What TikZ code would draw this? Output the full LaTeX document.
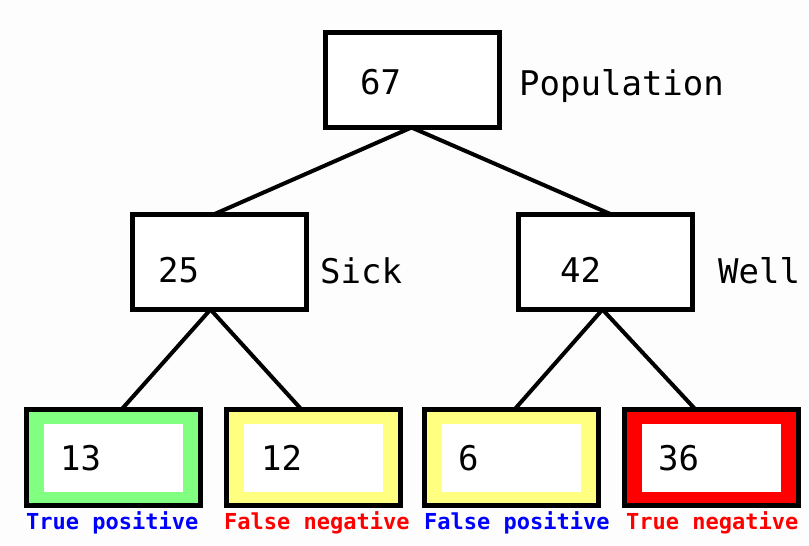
\documentclass[tikz,border=0pt]{standalone}
\usepackage{fontspec}
\setmonofont{DejaVu Sans Mono}
\definecolor{bg}{HTML}{FCFDFC}
\definecolor{tpgreen}{HTML}{80FF80}
\definecolor{fyellow}{HTML}{FFFF80}
\definecolor{tnred}{HTML}{FF0000}
\definecolor{lblue}{HTML}{0000FF}
\begin{document}
\begin{tikzpicture}[x=1pt,y=-1pt,
  box/.style={draw=black,line width=5pt,fill=white,minimum width=174pt,minimum height=95pt,inner sep=0pt,outer sep=0pt},
  leaf/.style={draw=black,line width=5pt,fill=#1,minimum width=174pt,minimum height=96pt,inner sep=0pt,outer sep=0pt},
  hole/.style={fill=white,minimum width=139pt,minimum height=68pt,inner sep=0pt,outer sep=0pt},
  num/.style={anchor=west,inner sep=0pt,font=\ttfamily\fontsize{34}{34}\selectfont},
  word/.style={anchor=base west,inner sep=0pt,font=\ttfamily\fontsize{34}{34}\selectfont},
  cap/.style={anchor=base west,inner sep=0pt,text=#1,font=\ttfamily\bfseries\fontsize{22}{22}\selectfont},
  link/.style={line width=4pt,line cap=round}]
\fill[bg] (0,0) rectangle (809,546);
\useasboundingbox (0,0) rectangle (809,546);
% upper boxes
\node[box] (top) at (412.5,80) {};
\node[box] (sick) at (219.5,262) {};
\node[box] (well) at (605.5,262) {};
% leaves
\node[leaf=tpgreen] (tp) at (113.5,457.5) {};
\node[leaf=fyellow] (fn) at (313.5,457.5) {};
\node[leaf=fyellow] (fp) at (511.5,457.5) {};
\node[leaf=tnred] (tn) at (711.5,457.5) {};
\node[hole] (tph) at (113.5,458) {};
\node[hole] (fnh) at (313.5,458) {};
\node[hole] (fph) at (511.5,458) {};
\node[hole] (tnh) at (711.5,458) {};
% connectors
\draw[link] ([xshift=-1pt]top.south) -- ([xshift=-6pt]sick.north);
\draw[link] ([xshift=-1pt]top.south) -- ([xshift=6pt]well.north);
\draw[link] ([xshift=-9pt]sick.south) -- ([xshift=8pt]tp.north);
\draw[link] ([xshift=-9pt]sick.south) -- ([xshift=-12pt]fn.north);
\draw[link] ([xshift=-3pt]well.south) -- ([xshift=3pt]fp.north);
\draw[link] ([xshift=-3pt]well.south) -- ([xshift=-16pt]tn.north);
% texts
\node[num] (n67) at (360,82) {67};
\node[word] (lpop) at (519,95) {Population};
\node[num] (n25) at (158,270) {25};
\node[word] (lsick) at (320,283) {Sick};
\node[num] (n42) at (560,270) {42};
\node[word] (lwell) at (718,283) {Well};
\node[num] (n13) at (60,458) {13};
\node[num] (n12) at (261,458) {12};
\node[num] (n6) at (458,458) {6};
\node[num] (n36) at (658,458) {36};
\node[cap=lblue] (ltp) at (26,529) {True positive};
\node[cap=tnred] (lfn) at (224,529) {False negative};
\node[cap=lblue] (lfp) at (424,529) {False positive};
\node[cap=tnred] (ltn) at (626,529) {True negative};
\end{tikzpicture}
\end{document}
